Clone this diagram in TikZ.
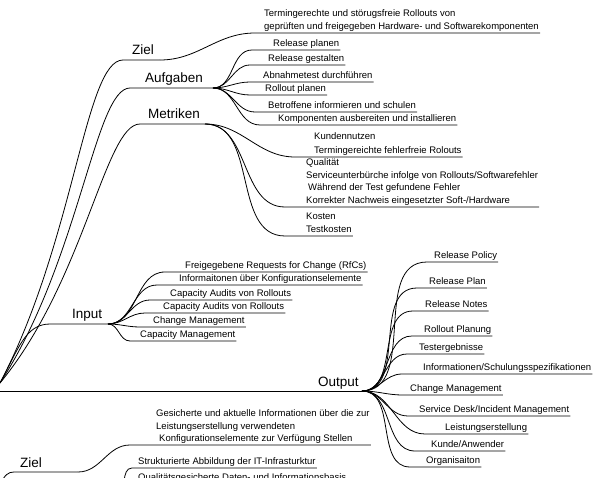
\documentclass[tikz,border=0pt]{standalone}
\usepackage{fontspec}
\setmainfont{Liberation Sans}
\newcommand\mmleaf[6]{%
  \node[leaf] (#1) at (#4,#5) {#6};
  \draw[conn] (#2) to[out=0,in=180] ([xshift=-#3pt]#1.south west) -- (#1.south east);}
\begin{document}
\begin{tikzpicture}[x=1pt,y=-1pt,
  conn/.style={line width=0.8pt, black},
  big/.style={font=\fontsize{13.5}{16}\selectfont, anchor=base west, inner sep=0pt},
  leaf/.style={font=\fontsize{9.5}{12.8}\selectfont, anchor=south west, align=left,
    inner xsep=1pt, inner ysep=1pt, text depth=2pt}]
\useasboundingbox (0,0) rectangle (608,478);

% root and first-level coordinates
\coordinate (root) at (0,383);
\coordinate (rootO) at (0,391);
\coordinate (zielA) at (123,60);  \coordinate (zielB) at (160,60);
\coordinate (aufA) at (130,88);   \coordinate (aufF) at (213,88);
\coordinate (metA) at (140,124);  \coordinate (metF) at (205,124);
\coordinate (inA) at (50,324);    \coordinate (inF) at (108,324);
\coordinate (outF) at (362,391);

% first-level labels
\node[big] (ziel) at (132,55) {Ziel};
\node[big] (aufg) at (145,83) {Aufgaben};
\node[big] (metr) at (148,119) {Metriken};
\node[big] (inp) at (72,319) {Input};
\node[big] (outp) at (318,386) {Output};

% first-level connectors
\draw[conn] (root) .. controls (75,240) and (85,60) .. (zielA) -- (zielB);
\draw[conn] (root) .. controls (80,260) and (95,88) .. (aufA) -- (aufF);
\draw[conn] (root) .. controls (85,280) and (105,124) .. (metA) -- (metF);
\draw[conn] (root) .. controls (18,350) and (25,324) .. (inA) -- (inF);
\draw[conn] (rootO) -- (outF);

% Ziel
\mmleaf{zt}{zielB}{8}{263}{33}{Termingerechte und störugsfreie Rollouts von\\geprüften und freigegeben Hardware- und Softwarekomponenten}

% Aufgaben
\mmleaf{a1}{aufF}{20}{272}{50}{Release planen}
\mmleaf{a2}{aufF}{17}{267}{65}{Release gestalten}
\mmleaf{a3}{aufF}{12}{262}{82}{Abnahmetest durchführen}
\mmleaf{a4}{aufF}{14}{264}{95}{Rollout planen}
\mmleaf{a5}{aufF}{12}{267}{112}{Betroffene informieren und schulen}
\mmleaf{a6}{aufF}{17}{277}{125}{Komponenten ausbereiten und installieren}

% Metriken
\mmleaf{m1}{metF}{18}{313}{157}{Kundennutzen\\[1.5pt]Termingereichte fehlerfreie Rolouts}
\mmleaf{m2}{metF}{20}{305}{207}{Qualität\\Serviceunterbürche infolge von Rollouts/Softwarefehler\\\hspace{2pt}Während der Test gefundene Fehler\\Korrekter Nachweis eingesetzter Soft-/Hardware}
\mmleaf{m3}{metF}{20}{305}{236}{Kosten\\Testkosten}

% Input
\mmleaf{i1}{inF}{19}{184}{272}{Freigegebene Requests for Change (RfCs)}
\mmleaf{i2}{inF}{21}{178}{285}{Informaitonen über Konfigurationselemente}
\mmleaf{i3}{inF}{19}{169}{300}{Capacity Audits von Rollouts}
\mmleaf{i4}{inF}{17}{162}{313}{Capacity Audits von Rollouts}
\mmleaf{i5}{inF}{12}{152}{327}{Change Management}
\mmleaf{i6}{inF}{9}{139}{341}{Capacity Management}

% Output
\mmleaf{o1}{outF}{6}{433}{262}{Release Policy}
\mmleaf{o2}{outF}{11}{428}{288}{Release Plan}
\mmleaf{o3}{outF}{11}{424}{311}{Release Notes}
\mmleaf{o4}{outF}{11}{423}{336}{Rollout Planung}
\mmleaf{o5}{outF}{11}{418}{354}{Testergebnisse}
\mmleaf{o6}{outF}{20}{422}{374}{Informationen/Schulungsspezifikationen}
\mmleaf{o7}{outF}{6}{409}{395}{Change Management}
\mmleaf{o8}{outF}{10}{418}{416}{Service Desk/Incident Management}
\mmleaf{o9}{outF}{19}{444}{434}{Leistungserstellung}
\mmleaf{o10}{outF}{15}{430}{451}{Kunde/Anwender}
\mmleaf{o11}{outF}{15}{425}{467}{Organisaiton}

% second map (bottom)
\coordinate (root2) at (0,484);
\coordinate (z2A) at (14,472);  \coordinate (z2B) at (78,472);
\coordinate (lowF) at (116,494);
\node[big] (ziel2) at (20,467) {Ziel};
\draw[conn] (root2) .. controls (5,475) and (8,472) .. (z2A) -- (z2B);
\mmleaf{g1}{z2B}{25}{155}{445}{Gesicherte und aktuelle Informationen über die zur\\Leistungserstellung verwendeten\\\hspace{3pt}Konfigurationselemente zur Verfügung Stellen}
\mmleaf{g2}{lowF}{5}{137}{468}{Strukturierte Abbildung der IT-Infrasturktur}
\mmleaf{g3}{lowF}{5}{137}{484}{Qualitätsgesicherte Daten- und Informationsbasis}
\end{tikzpicture}
\end{document}
